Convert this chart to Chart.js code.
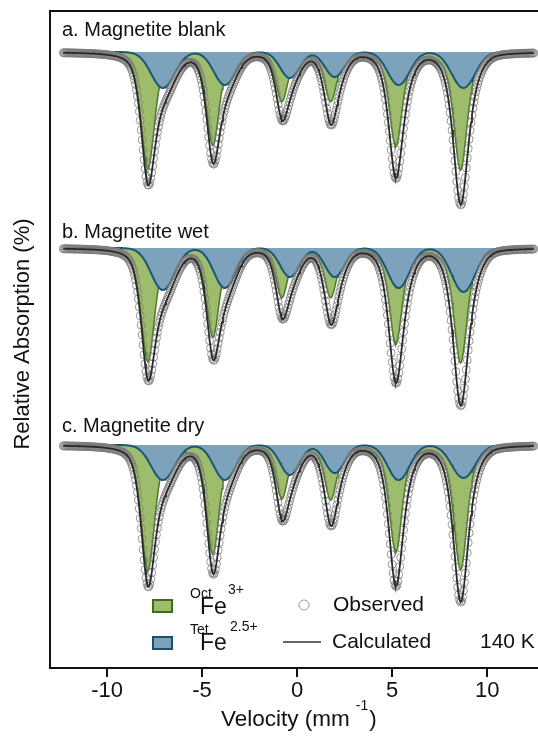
<!DOCTYPE html>
<html>
<head>
<meta charset="utf-8">
<script src="https://cdn.jsdelivr.net/npm/chart.js@4.4.1/dist/chart.umd.min.js"></script>
<style>
  html, body { margin: 0; padding: 0; background: #fff; overflow: hidden; }
  canvas { display: block; }
</style>
</head>
<body>
<canvas id="myChart" width="538" height="742"></canvas>
<script>
// tick labels and panel labels
const velocityTicks = [-10, -5, 0, 5, 10];
const panelLabels = ['a. Magnetite blank', 'b. Magnetite wet', 'c. Magnetite dry'];

// stacked baselines of the three spectra (relative absorption, offset units)
const baselines = [61.6, 42.0, 22.3];

// sextet line positions (mm/s) and widths
const octPos = [-7.85, -4.43, -0.80, 1.77, 5.19, 8.60];
const tetPos = [-7.06, -3.80, -0.38, 1.98, 5.34, 8.75];
const octWidth = [0.85, 0.80, 0.75, 0.75, 0.80, 0.85];
const tetWidth = [1.45, 1.35, 1.20, 1.20, 1.35, 1.45];
const octLorentzFraction = 0.55;

// line depths for each spectrum
const octDepthA = [11.6, 9.2, 4.8, 4.8, 9.3, 11.7];
const tetDepthA = [3.6, 3.3, 2.6, 2.5, 3.3, 3.6];
const octDepthB = [11.3, 8.8, 4.8, 4.8, 9.5, 11.4];
const tetDepthB = [4.2, 4.0, 2.9, 2.9, 4.0, 4.4];
const octDepthC = [12.5, 10.8, 5.2, 5.3, 10.6, 12.4];
const tetDepthC = [3.5, 3.5, 3.0, 2.8, 3.5, 3.3];

const octDepths = [octDepthA, octDepthB, octDepthC];
const tetDepths = [tetDepthA, tetDepthB, tetDepthC];

// measured velocity channels
const vStart = -12.3, vEnd = 12.5, vStep = 0.05;
const velocity = [];
for (let v = vStart; v <= vEnd + 1e-9; v += vStep) velocity.push(+v.toFixed(3));

// pseudo-Voigt octahedral lines
function octAt(v, s) {
  let sum = 0;
  for (let i = 0; i < 6; i++) {
    const t = (v - octPos[i]) / (octWidth[i] / 2);
    const lor = 1 / (1 + t * t);
    const gau = Math.exp(-Math.LN2 * t * t);
    sum += octDepths[s][i] * (octLorentzFraction * lor + (1 - octLorentzFraction) * gau);
  }
  return sum;
}
// broad tetrahedral lines
function tetAt(v, s) {
  let sum = 0;
  for (let i = 0; i < 6; i++) {
    const sig = tetWidth[i] / 2.3548;
    const t = (v - tetPos[i]) / sig;
    sum += tetDepths[s][i] * Math.exp(-0.5 * t * t);
  }
  return sum;
}

const datasets = [];
baselines.forEach((base, s) => {
  datasets.push({
    label: 'Oct ' + s,
    data: velocity.map(v => ({ x: v, y: base - octAt(v, s) })),
    fill: { value: base },
    backgroundColor: '#9dbc6c',
    borderColor: '#4a7a22',
    borderWidth: 1.5,
    pointRadius: 0,
    clip: false,
    order: 4
  });
  datasets.push({
    label: 'Tet ' + s,
    data: velocity.map(v => ({ x: v, y: base - tetAt(v, s) })),
    fill: { value: base },
    backgroundColor: '#7ca2bc',
    borderColor: '#1d5675',
    borderWidth: 2,
    pointRadius: 0,
    clip: false,
    order: 3
  });
  datasets.push({
    label: 'Observed ' + s,
    data: velocity.map(v => ({ x: v, y: base - octAt(v, s) - tetAt(v, s) })),
    showLine: false,
    pointRadius: 4,
    pointBorderWidth: 1,
    pointBorderColor: 'rgba(125,125,125,0.8)',
    pointBackgroundColor: 'rgba(0,0,0,0)',
    clip: false,
    order: 2
  });
  datasets.push({
    label: 'Calculated ' + s,
    data: velocity.map(v => ({ x: v, y: base - octAt(v, s) - tetAt(v, s) })),
    borderColor: '#2a2a2a',
    borderWidth: 1.8,
    pointRadius: 0,
    fill: false,
    clip: false,
    order: 1
  });
});

const FONT = '"Liberation Sans", Arial, sans-serif';

const annotations = {
  id: 'annotations',
  afterDraw(chart) {
    const c = chart.ctx;
    const a = chart.chartArea;
    c.save();
    // top frame line and bottom axis run to the edge
    c.strokeStyle = '#111';
    c.lineWidth = 2;
    c.beginPath();
    c.moveTo(a.left - 1, a.top);
    c.lineTo(chart.width, a.top);
    c.moveTo(a.left - 1, a.bottom);
    c.lineTo(chart.width, a.bottom);
    c.stroke();

    c.fillStyle = '#111';
    c.textBaseline = 'middle';
    c.textAlign = 'left';
    c.font = '20px ' + FONT;
    const labelY = [30, 232, 426];
    panelLabels.forEach((t, i) => c.fillText(t, 62, labelY[i]));

    // y title
    c.save();
    c.translate(23, 334);
    c.rotate(-Math.PI / 2);
    c.textAlign = 'center';
    c.font = '22px ' + FONT;
    c.fillText('Relative Absorption (%)', 0, 0);
    c.restore();

    // x title with superscript
    c.font = '22.5px ' + FONT;
    c.fillText('Velocity (mm', 221, 720);
    let w = c.measureText('Velocity (mm').width;
    c.font = '14px ' + FONT;
    c.fillText('-1', 221 + w + 6, 706);
    const w2 = c.measureText('-1').width;
    c.font = '22.5px ' + FONT;
    c.fillText(')', 221 + w + 6 + w2 + 1, 720);

    // legend boxes
    c.lineWidth = 2;
    c.fillStyle = '#9dbc6c';
    c.strokeStyle = '#3e6b1e';
    c.fillRect(153, 600, 19, 12);
    c.strokeRect(153, 600, 19, 12);
    c.fillStyle = '#7ca2bc';
    c.strokeStyle = '#1f4e6b';
    c.fillRect(153, 637, 19, 12);
    c.strokeRect(153, 637, 19, 12);

    c.fillStyle = '#111';
    c.textBaseline = 'alphabetic';
    c.font = '14px ' + FONT;
    c.fillText('Oct', 190, 598);
    c.fillText('3+', 228, 594);
    c.fillText('Tet', 190, 634);
    c.fillText('2.5+', 230, 631);
    c.font = '23px ' + FONT;
    c.fillText('Fe', 200, 614);
    c.fillText('Fe', 200, 650);

    // observed / calculated keys
    c.strokeStyle = '#999';
    c.lineWidth = 1;
    c.beginPath();
    c.arc(304, 605, 5, 0, Math.PI * 2);
    c.stroke();
    c.strokeStyle = '#333';
    c.lineWidth = 1.5;
    c.beginPath();
    c.moveTo(283, 642);
    c.lineTo(321, 642);
    c.stroke();

    c.textBaseline = 'middle';
    c.font = '21px ' + FONT;
    c.fillText('Observed', 333, 605);
    c.fillText('Calculated', 332, 642);
    c.fillText('140 K', 480, 642);
    c.restore();
  }
};

const config = {
  type: 'line',
  data: { datasets: datasets },
  options: {
    responsive: false,
    animation: false,
    devicePixelRatio: 1,
    layout: { padding: { top: 11, right: 0, left: 0, bottom: 0 } },
    plugins: { legend: { display: false }, tooltip: { enabled: false } },
    elements: { line: { tension: 0 } },
    scales: {
      x: {
        type: 'linear',
        min: -13,
        max: 12.41,
        afterBuildTicks: s => { s.ticks = velocityTicks.map(v => ({ value: v })); },
        afterFit: s => { s.height = 74; },
        grid: { display: true, drawOnChartArea: false, drawTicks: true, tickLength: 9, color: '#111', lineWidth: 2 },
        border: { display: true, color: '#111', width: 2 },
        ticks: { color: '#111', font: { family: FONT, size: 22 }, padding: 1, maxRotation: 0 }
      },
      y: {
        type: 'linear',
        min: 0,
        max: 65.7,
        afterFit: s => { s.width = 50; },
        grid: { display: false },
        border: { display: true, color: '#111', width: 2 },
        ticks: { display: false }
      }
    }
  },
  plugins: [annotations]
};

const myChart = new Chart(document.getElementById('myChart').getContext('2d'), config);
</script>
</body>
</html>
